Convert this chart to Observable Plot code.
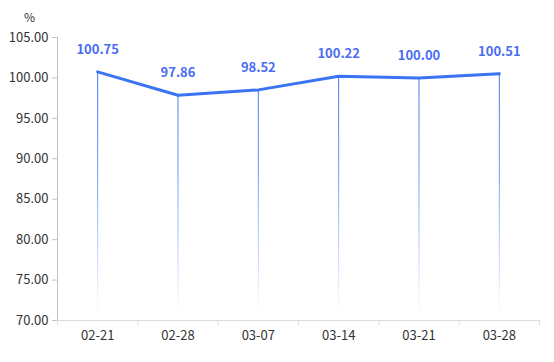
<!DOCTYPE html>
<html>
<head>
<meta charset="utf-8">
<script src="https://cdn.jsdelivr.net/npm/d3@7"></script>
<script src="https://cdn.jsdelivr.net/npm/@observablehq/plot@0.6"></script>
<style>
  html, body { margin: 0; padding: 0; background: #fff; }
  #chart { position: relative; width: 554px; height: 362px; }
  #unit { position: absolute; left: 24px; top: 8px; font: 12px "Noto Sans CJK SC", "Noto Sans", sans-serif; color: #333; }
</style>
</head>
<body>
<div id="chart"><div id="unit">%</div></div>
<script>
const dates = ["02-21", "02-28", "03-07", "03-14", "03-21", "03-28"];
const values = [100.75, 97.86, 98.52, 100.22, 100.00, 100.51];
const yTicks = [70, 75, 80, 85, 90, 95, 100, 105];

const data = dates.map((d, i) => ({i, date: d, value: values[i]}));
const idx = dates.map((d, i) => i);
const bounds = [...idx.map(i => i - 0.5), dates.length - 0.5];

const font = '"Noto Sans CJK SC", "Noto Sans", sans-serif';

const plot = Plot.plot({
  width: 554,
  height: 362,
  marginLeft: 57,
  marginRight: 15,
  marginTop: 37,
  marginBottom: 42,
  style: {fontFamily: font, fontSize: "12px", color: "#333", background: "transparent"},
  x: {type: "linear", domain: [-0.5, dates.length - 0.5], label: null},
  y: {domain: [70, 105], label: null},
  marks: [
    Plot.ruleY([70], {stroke: "#dcdcdc", strokeWidth: 1}),
    Plot.axisX({ticks: bounds, tickSize: 5, tickFormat: () => "", stroke: "#dcdcdc", label: null}),
    Plot.axisX({ticks: idx, tickSize: 0, tickPadding: 10, tickFormat: i => dates[i], fill: "#333", fontSize: 13, label: null}),
    Plot.ruleX([-0.5], {stroke: "#c4c4c4", strokeWidth: 1}),
    Plot.axisY({ticks: yTicks, tickSize: 5, tickPadding: 4, tickFormat: d3.format(".2f"), stroke: "#c4c4c4", fill: "#333", fontSize: 13, label: null}),
    Plot.ruleX(data, {x: "i", y1: 70, y2: "value", stroke: "url(#dropGrad)", strokeWidth: 1}),
    Plot.line(data, {x: "i", y: "value", stroke: "#3a74f2", strokeWidth: 3}),
    Plot.text(data, {x: "i", y: "value", text: d => d3.format(".2f")(d.value), dy: -22, fill: "#4a6cf3", fontWeight: "bold", fontSize: 13})
  ]
});

const svg = d3.select(plot);
const defs = svg.insert("defs", ":first-child");
const g = defs.append("linearGradient")
  .attr("id", "dropGrad")
  .attr("gradientUnits", "userSpaceOnUse")
  .attr("x1", 0).attr("x2", 0).attr("y1", 70).attr("y2", 315);
g.append("stop").attr("offset", "0").attr("stop-color", "#3a74f2").attr("stop-opacity", 1);
g.append("stop").attr("offset", "0.4").attr("stop-color", "#3a74f2").attr("stop-opacity", 0.75);
g.append("stop").attr("offset", "1").attr("stop-color", "#3a74f2").attr("stop-opacity", 0);

document.getElementById("chart").appendChild(plot);
plot.style.position = "absolute";
plot.style.left = "0";
plot.style.top = "0";
</script>
</body>
</html>
